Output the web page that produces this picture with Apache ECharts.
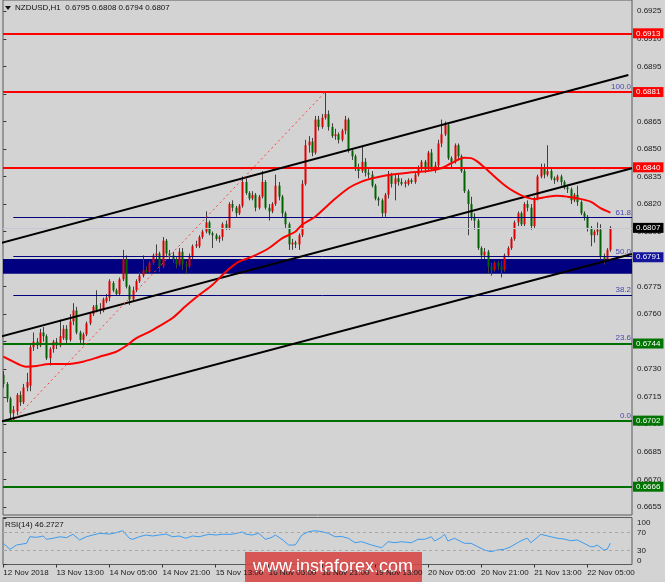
<!DOCTYPE html>
<html><head><meta charset="utf-8">
<script src="https://cdn.jsdelivr.net/npm/echarts@6/dist/echarts.min.js"></script>
<style>html,body{margin:0;padding:0;background:#d3d3d3;}#c{width:665px;height:582px;}</style>
</head><body><div id="c"></div>
<script>
const headerText = 'NZDUSD,H1  0.6795 0.6808 0.6794 0.6807';
const rsiText = 'RSI(14) 46.2727';
const timeLabels = ['12 Nov 2018','13 Nov 13:00','14 Nov 05:00','14 Nov 21:00','15 Nov 13:00','16 Nov 05:00','16 Nov 21:00','19 Nov 13:00','20 Nov 05:00','20 Nov 21:00','21 Nov 13:00','22 Nov 05:00'];
const timeLabelIdx = [0,16,32,48,64,80,96,112,128,144,160,176];
const priceTicks = [0.6655,0.6670,0.6685,0.6700,0.6715,0.6730,0.6745,0.6760,0.6775,0.6790,0.6805,0.6820,0.6835,0.6850,0.6865,0.6880,0.6895,0.6910,0.6925];
const rsiTicks = [0,30,70,100];

const opens = [.6727,.6722,.6714,.6706,.6707,.6716,.6712,.6720,.6721,.6742,.6745,.6743,.6750,.6748,.6736,.6741,.6745,.6743,.6747,.6752,.6746,.6756,.6762,.6750,.6746,.6749,.6755,.6760,.6765,.6762,.6762,.6767,.6769,.6777,.6773,.6771,.6779,.6790,.6775,.6768,.6773,.6778,.6781,.6784,.6783,.6788,.6792,.6793,.6786,.6800,.6793,.6792,.6790,.6787,.6794,.6787,.6786,.6791,.6797,.6797,.6802,.6805,.6810,.6804,.6803,.6801,.6802,.6809,.6807,.6820,.6818,.6815,.6819,.6832,.6826,.6823,.6825,.6818,.6824,.6832,.6818,.6816,.6820,.6830,.6824,.6815,.6809,.6798,.6799,.6798,.6803,.6831,.6852,.6854,.6848,.6866,.6862,.6867,.6869,.6862,.6857,.6858,.6855,.6860,.6866,.6849,.6846,.6840,.6838,.6843,.6837,.6836,.6830,.6823,.6822,.6815,.6825,.6836,.6831,.6834,.6832,.6831,.6831,.6833,.6832,.6836,.6840,.6843,.6839,.6848,.6839,.6841,.6853,.6858,.6863,.6845,.6843,.6852,.6846,.6838,.6827,.6820,.6813,.6811,.6796,.6792,.6794,.6786,.6784,.6788,.6786,.6784,.6792,.6796,.6801,.6810,.6815,.6809,.6820,.6818,.6808,.6823,.6835,.6840,.6836,.6838,.6834,.6833,.6835,.6832,.6829,.6828,.6822,.6825,.6821,.6815,.6813,.6807,.6803,.6805,.6806,.6791,.6790,.6795];
const highs = [.6729,.6723,.6715,.6710,.6717,.6718,.6722,.6728,.6744,.6750,.6747,.6752,.6753,.6749,.6742,.6746,.6747,.6757,.6754,.6754,.6760,.6766,.6764,.6751,.6750,.6756,.6761,.6765,.6773,.6766,.6769,.6771,.6779,.6778,.6774,.6780,.6795,.6792,.6776,.6775,.6779,.6783,.6792,.6786,.6789,.6793,.6798,.6794,.6802,.6801,.6795,.6794,.6791,.6796,.6796,.6789,.6793,.6798,.6800,.6803,.6806,.6816,.6811,.6805,.6804,.6803,.6810,.6811,.6821,.6822,.6819,.6820,.6835,.6834,.6827,.6827,.6826,.6825,.6838,.6833,.6820,.6821,.6836,.6832,.6825,.6816,.6810,.6801,.6800,.6804,.6833,.6855,.6857,.6856,.6868,.6868,.6869,.6881,.6871,.6864,.6861,.6859,.6861,.6868,.6867,.6850,.6847,.6842,.6852,.6845,.6839,.6838,.6831,.6824,.6823,.6826,.6838,.6837,.6836,.6836,.6834,.6833,.6834,.6834,.6837,.6841,.6844,.6844,.6849,.6850,.6843,.6855,.6866,.6865,.6864,.6846,.6853,.6853,.6847,.6839,.6828,.6824,.6815,.6812,.6797,.6796,.6795,.6788,.6789,.6789,.6789,.6793,.6797,.6802,.6811,.6816,.6816,.6821,.6822,.6820,.6824,.6836,.6842,.6842,.6852,.6840,.6835,.6836,.6836,.6833,.6830,.6829,.6826,.6830,.6822,.6816,.6814,.6808,.6806,.6810,.6809,.6793,.6796,.6808];
const lows = [.6720,.6712,.6703,.6702,.6705,.6710,.6711,.6718,.6718,.6740,.6741,.6742,.6745,.6735,.6732,.6739,.6741,.6742,.6746,.6744,.6745,.6754,.6749,.6744,.6743,.6748,.6754,.6759,.6761,.6760,.6761,.6766,.6767,.6772,.6770,.6770,.6778,.6774,.6765,.6767,.6772,.6777,.6780,.6782,.6782,.6787,.6790,.6783,.6785,.6791,.6790,.6788,.6785,.6786,.6784,.6782,.6785,.6790,.6796,.6796,.6801,.6804,.6803,.6796,.6800,.6799,.6800,.6806,.6806,.6816,.6813,.6814,.6818,.6825,.6822,.6822,.6816,.6817,.6823,.6817,.6811,.6815,.6819,.6822,.6813,.6807,.6795,.6795,.6796,.6795,.6802,.6830,.6848,.6846,.6847,.6860,.6861,.6866,.6860,.6856,.6855,.6853,.6854,.6858,.6848,.6844,.6838,.6834,.6837,.6835,.6834,.6829,.6822,.6819,.6813,.6813,.6823,.6829,.6822,.6830,.6830,.6829,.6830,.6831,.6831,.6835,.6838,.6837,.6838,.6838,.6837,.6839,.6851,.6857,.6844,.6840,.6842,.6844,.6837,.6826,.6803,.6811,.6806,.6795,.6790,.6790,.6782,.6781,.6783,.6784,.6780,.6783,.6791,.6795,.6800,.6808,.6808,.6808,.6816,.6806,.6807,.6822,.6834,.6834,.6835,.6833,.6831,.6832,.6830,.6828,.6826,.6820,.6821,.6819,.6814,.6811,.6805,.6797,.6799,.6803,.6790,.6787,.6789,.6794];
const closes = [.6722,.6714,.6706,.6708,.6716,.6712,.6720,.6723,.6742,.6745,.6743,.6750,.6748,.6736,.6741,.6745,.6743,.6748,.6752,.6746,.6756,.6762,.6750,.6746,.6749,.6755,.6760,.6764,.6762,.6763,.6768,.6769,.6778,.6773,.6771,.6779,.6790,.6775,.6768,.6773,.6778,.6781,.6784,.6783,.6788,.6792,.6793,.6786,.6800,.6793,.6792,.6790,.6787,.6794,.6787,.6786,.6791,.6797,.6798,.6802,.6805,.6810,.6804,.6803,.6801,.6802,.6809,.6807,.6820,.6818,.6815,.6819,.6832,.6826,.6823,.6825,.6818,.6824,.6832,.6818,.6816,.6820,.6830,.6824,.6815,.6809,.6798,.6799,.6798,.6803,.6831,.6852,.6854,.6848,.6866,.6862,.6867,.6869,.6862,.6857,.6858,.6855,.6860,.6866,.6849,.6846,.6840,.6838,.6843,.6837,.6836,.6830,.6823,.6822,.6815,.6825,.6836,.6831,.6834,.6832,.6831,.6832,.6833,.6832,.6836,.6840,.6843,.6839,.6848,.6839,.6841,.6853,.6858,.6863,.6845,.6843,.6852,.6846,.6838,.6827,.6820,.6813,.6811,.6796,.6792,.6794,.6786,.6784,.6788,.6786,.6784,.6792,.6796,.6801,.6810,.6815,.6809,.6820,.6818,.6808,.6823,.6835,.6840,.6836,.6838,.6834,.6833,.6835,.6832,.6829,.6828,.6822,.6825,.6821,.6815,.6813,.6807,.6803,.6805,.6806,.6791,.6790,.6795,.6807];

const maIdx = [0,2,7,10,14,19,24,29,34,37,40,44,47,51,55,59,63,67,71,75,80,84,88,90,94,99,104,108,112,116,122,128,132,135,139,141,143,145,147,151,154,157,160,164,167,170,173,177,180,183];
const maVal = [0.67368,0.67350,0.67314,0.67318,0.67328,0.67328,0.67341,0.67368,0.67395,0.67427,0.67468,0.67504,0.67535,0.67579,0.67644,0.67704,0.67759,0.67830,0.67886,0.67913,0.67959,0.68013,0.68049,0.68086,0.68131,0.68213,0.68286,0.68322,0.68343,0.68358,0.68371,0.68380,0.68395,0.68422,0.68452,0.68450,0.68430,0.68400,0.68367,0.68304,0.68267,0.68240,0.68227,0.68240,0.68245,0.68240,0.68231,0.68213,0.68177,0.68153];

const rsiIdx = [0,2,4,7,8,10,12,13,15,17,19,21,23,25,27,29,32,34,36,38,39,41,43,45,47,49,51,53,55,57,59,62,64,66,69,72,73,75,77,79,81,82,84,86,88,90,92,94,96,98,100,102,104,106,108,111,114,116,118,120,123,125,127,129,130,132,133,134,136,139,141,143,145,147,149,151,153,155,157,158,159,161,162,165,167,169,171,173,175,177,178,179,181,182,183];
const rsiVal = [46.1,33.0,42.4,46.1,60.4,59.1,62.0,54.8,57.0,60.4,58.3,65.7,53.3,60.4,64.1,67.8,66.3,69.1,73.5,57.0,54.8,60.4,64.1,62.0,64.1,66.3,60.4,62.0,57.0,62.0,60.4,65.7,64.1,65.7,65.7,70.7,66.3,64.1,67.8,54.8,59.1,64.1,54.8,42.4,42.4,64.1,71.3,73.5,71.3,67.8,60.4,60.9,57.0,47.4,49.6,42.4,36.5,49.6,47.4,49.6,47.4,54.8,54.8,60.4,51.1,59.1,65.7,51.1,57.0,46.1,46.1,38.7,31.5,27.8,31.5,33.0,38.7,47.4,54.8,57.0,47.4,59.1,65.7,60.4,57.0,55.4,51.7,53.3,46.1,38.7,38.7,42.4,31.5,33.0,46.3];

const redLevels = [0.6913,0.6881,0.6840];
const greenLevels = [0.6744,0.6702,0.6666];
const fibNames = ['100.0','61.8','50.0','38.2','23.6','0.0'];
const fibPrices = [0.6881,0.68126,0.67915,0.67704,0.67442,0.6702];
const fibStartIdx = 3;
const fibDiag = [[3,0.6702],[97,0.6881]];
const currentPrice = 0.6807;
const bandTag = 0.6791;
const band = [0.6782,0.6790];
const channelUpper = [[-1,0.67986],[188.4,0.68903]];
const channelMid = [[-1,0.67477],[189.5,0.68395]];
const channelLow = [[-1,0.67014],[189.5,0.67928]];

const FONT = 'Liberation Sans';
const X_MIN = -0.1, X_MAX = 189.5;
const Y_MIN = 0.665058, Y_MAX = 0.693115;

const candleData = opens.map((o,i)=>[i,o,highs[i],lows[i],closes[i]]);

function renderCandle(params, api){
  const i=api.value(0), o=api.value(1), h=api.value(2), l=api.value(3), c=api.value(4);
  const pH=api.coord([i,h]), pL=api.coord([i,l]), pO=api.coord([i,o]), pC=api.coord([i,c]);
  const x=Math.round(pH[0]);
  const top=Math.min(pO[1],pC[1]), bot=Math.max(pO[1],pC[1]);
  const up=c>o, flat=c===o;
  return {type:'group', children:[
    {type:'line', shape:{x1:x+0.5,y1:pH[1],x2:x+0.5,y2:pL[1]}, style:{stroke:'#404040',lineWidth:1}},
    {type:'rect', shape:{x:x-0.5,y:top,width:2,height:Math.max(bot-top,1)}, style:{fill: flat?'#404040':(up?'#e00000':'#006400')}}
  ]};
}

function tag(v,bg){
  return {show:true, position:'end', distance:1, formatter:v.toFixed(4), color:'#ffffff',
    backgroundColor:bg, padding:[1,3,1,3], fontSize:8, fontFamily:FONT};
}

const chart = echarts.init(document.getElementById('c'), null, {renderer:'canvas'});
chart.setOption({
  animation:false,
  backgroundColor:'#d3d3d3',
  grid:[
    {left:3, top:0, right:33, height:515, show:true, borderColor:'#5a5a5a', borderWidth:1, backgroundColor:'transparent'},
    {left:3, top:517.5, right:33, height:47, show:true, borderColor:'#5a5a5a', borderWidth:1, backgroundColor:'transparent'}
  ],
  xAxis:[
    {type:'value', gridIndex:0, min:X_MIN, max:X_MAX, show:false},
    {type:'value', gridIndex:1, min:X_MIN, max:X_MAX, splitLine:{show:false}, axisLine:{show:false},
      axisTick:{show:true, length:3, customValues:timeLabelIdx, lineStyle:{color:'#333'}},
      axisLabel:{customValues:timeLabelIdx, align:'left', margin:4, fontSize:8, fontFamily:FONT, color:'#1a1a1a',
        formatter:(v)=>timeLabels[timeLabelIdx.indexOf(Math.round(v))] || ''}}
  ],
  yAxis:[
    {type:'value', gridIndex:0, position:'right', min:Y_MIN, max:Y_MAX, splitLine:{show:false}, axisLine:{show:false},
      axisTick:{show:true, length:3, customValues:priceTicks, lineStyle:{color:'#333'}},
      axisLabel:{customValues:priceTicks, margin:5, fontSize:8, fontFamily:FONT, color:'#1a1a1a', formatter:(v)=>v.toFixed(4)}},
    {type:'value', gridIndex:1, position:'right', min:0, max:102.2, splitLine:{show:false}, axisLine:{show:false},
      axisTick:{show:true, length:3, customValues:rsiTicks, lineStyle:{color:'#333'}},
      axisLabel:{customValues:rsiTicks, margin:5, fontSize:8, fontFamily:FONT, color:'#1a1a1a',
        verticalAlignMaxLabel:'top', verticalAlignMinLabel:'bottom', formatter:(v)=>String(v)}}
  ],
  graphic:[
    {type:'polygon', shape:{points:[[5,6],[11,6],[8,10]]}, style:{fill:'#111'}, z:10},
    {type:'text', left:15, top:4, style:{text:headerText, font:'8px "Liberation Sans"', fill:'#111'}, z:10},
    {type:'text', left:5, top:521, style:{text:rsiText, font:'8px "Liberation Sans"', fill:'#111'}, z:10},
    {type:'group', z:100, children:[
      {type:'rect', shape:{x:245,y:552,width:177,height:30}, style:{fill:'rgba(215,70,70,0.88)'}},
      {type:'text', x:253, y:567, style:{text:'www.instaforex.com', font:'18px "Liberation Sans"', fill:'#ffffff', verticalAlign:'middle'}}
    ]}
  ],
  series:[
    {name:'band', type:'line', xAxisIndex:0, yAxisIndex:0, data:[], z:1, silent:true,
      markArea:{silent:true, precision:6, itemStyle:{color:'#000080'}, data:[[{yAxis:band[1]},{yAxis:band[0]}]]}},
    {name:'current', type:'line', xAxisIndex:0, yAxisIndex:0, data:[], z:1, silent:true,
      markLine:{silent:true, precision:6, symbol:['none','none'], data:[
        {yAxis:currentPrice, lineStyle:{color:'#c4c8d2', width:1, type:'solid'}, label:tag(currentPrice,'#000000')}
      ]}},
    {name:'candles', type:'custom', xAxisIndex:0, yAxisIndex:0, data:candleData, renderItem:renderCandle, clip:true, z:2,
      encode:{x:0, y:[1,2,3,4]}},
    {name:'fib', type:'line', xAxisIndex:0, yAxisIndex:0, data:[], z:3, silent:true,
      markLine:{silent:true, precision:6, symbol:['none','none'], data: fibPrices.map((p,k)=>[
        {coord:[fibStartIdx,p], lineStyle:{color:'#000080', width:1, type:'solid'},
         label:{show:true, position:'insideEndTop', distance:1, formatter:fibNames[k], color:'#4848b0', fontSize:8, fontFamily:FONT}},
        {coord:[X_MAX,p]}])}},
    {name:'levels', type:'line', xAxisIndex:0, yAxisIndex:0, data:[], z:4, silent:true,
      markLine:{silent:true, precision:6, symbol:['none','none'], data:[
        ...redLevels.map(v=>({yAxis:v, lineStyle:{color:'#ff0000', width:2, type:'solid'}, label:tag(v,'#ff0000')})),
        ...greenLevels.map(v=>({yAxis:v, lineStyle:{color:'#006e00', width:2, type:'solid'}, label:tag(v,'#007300')})),
        {yAxis:bandTag, lineStyle:{color:'rgba(0,0,0,0)', width:0}, label:tag(bandTag,'#14149c')}
      ]}},
    {name:'chanU', type:'line', xAxisIndex:0, yAxisIndex:0, data:channelUpper, showSymbol:false, clip:true, z:5,
      lineStyle:{color:'#000', width:2}, silent:true},
    {name:'chanM', type:'line', xAxisIndex:0, yAxisIndex:0, data:channelMid, showSymbol:false, clip:true, z:5,
      lineStyle:{color:'#000', width:2}, silent:true},
    {name:'chanL', type:'line', xAxisIndex:0, yAxisIndex:0, data:channelLow, showSymbol:false, clip:true, z:5,
      lineStyle:{color:'#000', width:2}, silent:true},
    {name:'fibDiag', type:'line', xAxisIndex:0, yAxisIndex:0, data:fibDiag, showSymbol:false, z:5,
      lineStyle:{color:'#ff4040', width:1, type:[2,3]}, silent:true},
    {name:'MA', type:'line', xAxisIndex:0, yAxisIndex:0, data:maIdx.map((x,k)=>[x,maVal[k]]), showSymbol:false, smooth:0.3, z:6,
      lineStyle:{color:'#ff0000', width:2}, silent:true},
    {name:'RSI', type:'line', xAxisIndex:1, yAxisIndex:1, data:rsiIdx.map((x,k)=>[x,rsiVal[k]]), showSymbol:false, z:3,
      lineStyle:{color:'#3c9cf0', width:1}, silent:true,
      markLine:{silent:true, precision:2, symbol:['none','none'], label:{show:false},
        lineStyle:{color:'#a8a8a8', width:1, type:[3,3]}, data:[{yAxis:70},{yAxis:30}]}}
  ]
});
</script></body></html>
